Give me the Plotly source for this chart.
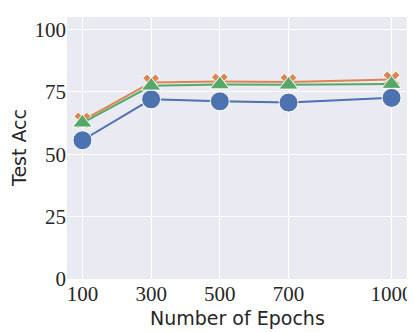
import plotly.graph_objects as go

epochs = [100, 300, 500, 700, 1000]
acc_blue = [55.6, 72.0, 71.2, 70.7, 72.6]
acc_orange = [63.5, 78.8, 79.2, 79.0, 80.0]
acc_green = [62.6, 77.4, 77.9, 77.8, 78.1]

serif = "Liberation Serif"
sans = "DejaVu Sans"
ink = "#262626"

fig = go.Figure()
series = [
    (acc_blue, "#4C72B0", "circle", 19),
    (acc_orange, "#DD8452", "x", 15),
    (acc_green, "#55A868", "triangle-up", 17),
]
for vals, col, sym, sz in series:
    fig.add_trace(go.Scatter(
        x=epochs, y=vals, mode="lines+markers",
        line=dict(color=col, width=2),
        marker=dict(symbol=sym, size=sz, color=col, line=dict(color="white", width=1)),
        showlegend=False,
    ))

# page body has an 8px margin, so the figure is shrunk to fit the window
fig.update_layout(
    width=407, height=324,
    margin=dict(l=59, r=8, t=9, b=53),
    paper_bgcolor="white", plot_bgcolor="#EAEAF2",
    xaxis=dict(
        range=[55, 1045], tickvals=epochs, ticktext=[str(e) for e in epochs],
        showgrid=True, gridcolor="white", gridwidth=1, zeroline=False,
        tickfont=dict(family=serif, size=21, color=ink),
        ticks="", ticklen=0, automargin=False,
    ),
    yaxis=dict(
        range=[0, 105], tickvals=[0, 25, 50, 75, 100],
        showgrid=True, gridcolor="white", gridwidth=1, zeroline=False,
        tickfont=dict(family=serif, size=21, color=ink),
        ticks="", ticklen=0, automargin=False,
    ),
    annotations=[
        dict(text="Number of Epochs", xref="paper", yref="paper", x=0.5, y=0,
             yanchor="middle", xanchor="center", yshift=-39, showarrow=False,
             font=dict(family=sans, size=19, color=ink)),
        dict(text="Test Acc", xref="paper", yref="paper", x=0, y=0.5, xshift=-48,
             xanchor="center", yanchor="middle", textangle=-90, showarrow=False,
             font=dict(family=sans, size=19, color=ink)),
    ],
)

fig.write_html("out.html")
